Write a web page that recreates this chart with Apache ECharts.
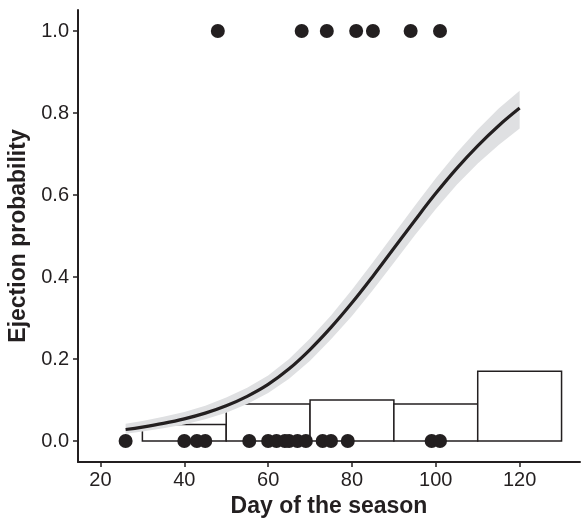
<!DOCTYPE html>
<html>
<head>
<meta charset="utf-8">
<script src="https://cdn.jsdelivr.net/npm/echarts@6/dist/echarts.min.js"></script>
<style>html,body{margin:0;padding:0;background:#fff}#chart{width:581px;height:518px}</style>
</head>
<body>
<div id="chart"></div>
<script>
// Observed ejections (y = 1) and non-ejections (y = 0), by day of the season
const ejectedDays = [48, 68, 74, 81, 85, 94, 101];
const notEjectedDays = [26, 40, 43, 45, 55.5, 60, 62, 64, 65, 67, 69, 73, 75, 79, 99, 101];

// Histogram-style boxes
const binStart = [30, 50, 70, 90, 110];
const binEnd = [50, 70, 90, 110, 130];
const binHeight = [0.04, 0.09, 0.10, 0.09, 0.17];

// Fitted curve and confidence band
const curveDays = [26, 30, 35, 40, 45, 50, 55, 60, 65, 70, 75, 80, 85, 90, 95, 100, 105, 110, 115, 120];
const curveFit  = [0.028, 0.034, 0.043, 0.054, 0.068, 0.086, 0.109, 0.138, 0.176, 0.223, 0.277, 0.337, 0.402, 0.470, 0.538, 0.604, 0.665, 0.720, 0.769, 0.812];
const curveLow  = [0.018, 0.023, 0.031, 0.040, 0.053, 0.069, 0.090, 0.117, 0.152, 0.196, 0.248, 0.305, 0.368, 0.435, 0.502, 0.566, 0.625, 0.677, 0.722, 0.762];
const curveHigh = [0.042, 0.049, 0.059, 0.071, 0.086, 0.106, 0.130, 0.160, 0.200, 0.250, 0.306, 0.369, 0.436, 0.505, 0.574, 0.641, 0.703, 0.760, 0.811, 0.854];

const xTicks = [20, 40, 60, 80, 100, 120];
const yTicks = [0, 0.2, 0.4, 0.6, 0.8, 1.0];

const ink = '#231f20';
const font = '"Liberation Sans", Arial, Helvetica, sans-serif';

const chart = echarts.init(document.getElementById('chart'), null, {renderer: 'canvas'});

const boxData = binStart.map((s, i) => [s, binEnd[i], binHeight[i]]);
const bandData = curveDays.map((d, i) => [d, curveLow[i], curveHigh[i]]);
const fitData = curveDays.map((d, i) => [d, curveFit[i]]);
const ptsData = ejectedDays.map(d => [d, 1]).concat(notEjectedDays.map(d => [d, 0]));

chart.setOption({
  animation: false,
  backgroundColor: '#fff',
  grid: {left: 78, right: 1, top: 10, bottom: 56, containLabel: false, outerBoundsMode: 'none'},
  xAxis: {
    type: 'value', min: 14.64, max: 134.4,
    name: 'Day of the season', nameLocation: 'middle', nameGap: 33,
    nameTextStyle: {fontFamily: font, fontSize: 23, fontWeight: 'bold', color: ink},
    axisLine: {show: true, onZero: false, lineStyle: {color: ink, width: 2}},
    axisTick: {show: true, length: 5, lineStyle: {color: ink, width: 1.5}, customValues: xTicks},
    axisLabel: {fontFamily: font, fontSize: 20, color: ink, margin: 8, customValues: xTicks},
    splitLine: {show: false}
  },
  yAxis: {
    type: 'value', min: -0.0512, max: 1.0512,
    name: 'Ejection probability', nameLocation: 'middle', nameGap: 42, nameRotate: 90,
    nameTextStyle: {fontFamily: font, fontSize: 23, fontWeight: 'bold', color: ink},
    axisLine: {show: true, onZero: false, lineStyle: {color: ink, width: 2}},
    axisTick: {show: true, length: 5, lineStyle: {color: ink, width: 1.5}, customValues: yTicks},
    axisLabel: {fontFamily: font, fontSize: 20, color: ink, margin: 9, customValues: yTicks,
      formatter: v => v.toFixed(1)},
    splitLine: {show: false}
  },
  series: [
    {
      type: 'custom', z: 1,
      data: boxData,
      encode: {x: [0, 1], y: 2},
      renderItem: function (params, api) {
        const p0 = api.coord([api.value(0), api.value(2)]);
        const p1 = api.coord([api.value(1), 0]);
        return {type: 'rect',
          shape: {x: p0[0], y: p0[1], width: p1[0] - p0[0], height: p1[1] - p0[1]},
          style: {fill: '#ffffff', stroke: ink, lineWidth: 1.5}};
      }
    },
    {
      type: 'custom', z: 2,
      data: bandData,
      encode: {x: 0, y: [1, 2]},
      renderItem: function (params, api) {
        if (params.dataIndex !== 0) return null;
        const upper = bandData.map(r => api.coord([r[0], r[2]]));
        const lower = bandData.map(r => api.coord([r[0], r[1]])).reverse();
        return {type: 'polygon',
          shape: {points: upper.concat(lower)},
          style: {fill: '#dfe0e2', stroke: null}};
      }
    },
    {
      type: 'line', data: fitData, symbol: 'none', smooth: 0.4, z: 3,
      lineStyle: {color: ink, width: 3.2}
    },
    {
      type: 'scatter', data: ptsData, symbol: 'circle', symbolSize: 14, z: 4,
      itemStyle: {color: ink, opacity: 1}
    }
  ]
});
</script>
</body>
</html>
